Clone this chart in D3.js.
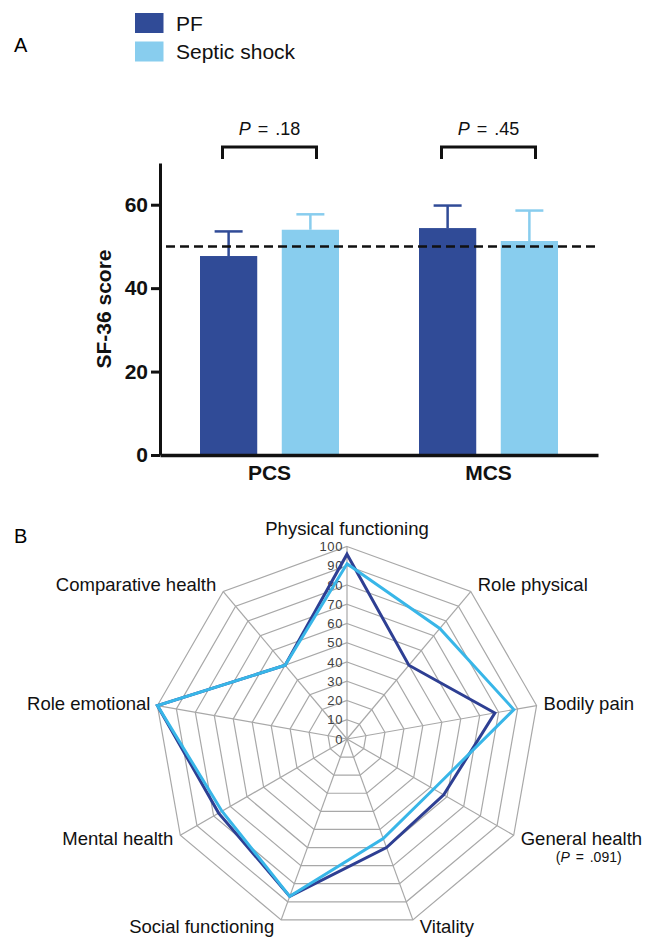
<!DOCTYPE html>
<html>
<head>
<meta charset="utf-8">
<script src="https://cdn.jsdelivr.net/npm/d3@7"></script>
<style>
  body { margin: 0; background: #fff; }
  svg { display: block; font-family: "Liberation Sans", Arial, sans-serif; }
</style>
</head>
<body>
<div id="chart"></div>
<script>
// panel A data
const groups = ["PCS", "MCS"];
const seriesNames = ["PF", "Septic shock"];
const meanPF = [47.7, 54.4];
const meanSeptic = [54.0, 51.3];
const errPF = [5.9, 5.4];
const errSeptic = [3.7, 7.3];
const pValues = [".18", ".45"];
const refScore = 50;
const yTicks = [0, 20, 40, 60];

// panel B data
const domains = ["Physical functioning", "Role physical", "Bodily pain", "General health",
  "Vitality", "Social functioning", "Mental health", "Role emotional", "Comparative health"];
const radarPF = [96, 50, 78, 58, 60, 87, 77, 100, 50];
const radarSeptic = [91, 75, 88, 52, 55, 87, 75, 100, 50];
const radarTicks = [0, 10, 20, 30, 40, 50, 60, 70, 80, 90, 100];

const barColors = ["#304b97", "#88cdee"];
const radarColors = ["#2e3f93", "#38b6e8"];

const svg = d3.select("#chart").append("svg")
    .attr("width", 647)
    .attr("height", 940);

// ---------- panel A: bar chart ----------
svg.append("text").attr("x", 14).attr("y", 52).attr("font-size", 20).text("A");

const legend = svg.append("g");
seriesNames.forEach((name, i) => {
    legend.append("rect")
        .attr("x", 135).attr("y", 13 + i * 28.5)
        .attr("width", 28.5).attr("height", 20)
        .attr("fill", barColors[i]);
    legend.append("text")
        .attr("x", 176).attr("y", 30.5 + i * 28)
        .attr("font-size", 21)
        .attr("fill", "#111")
        .text(name);
});

const y = d3.scaleLinear().domain([0, 70]).range([455, 163]);
const x0 = d3.scaleBand().domain(groups).range([160, 598]);
const x1 = d3.scaleBand().domain(seriesNames).range([40, x0.bandwidth() - 40]).paddingInner(0.3);

const barData = groups.flatMap((g, i) => [
    { group: g, series: seriesNames[0], mean: meanPF[i], err: errPF[i], color: barColors[0] },
    { group: g, series: seriesNames[1], mean: meanSeptic[i], err: errSeptic[i], color: barColors[1] }
]);

// error bars (upper half only)
const eb = svg.append("g").selectAll("g").data(barData).enter().append("g");
eb.append("line")
    .attr("x1", d => x0(d.group) + x1(d.series) + x1.bandwidth() / 2)
    .attr("x2", d => x0(d.group) + x1(d.series) + x1.bandwidth() / 2)
    .attr("y1", d => y(d.mean))
    .attr("y2", d => y(d.mean + d.err))
    .attr("stroke", d => d.color).attr("stroke-width", 2.5);
eb.append("line")
    .attr("x1", d => x0(d.group) + x1(d.series) + x1.bandwidth() / 2 - 14)
    .attr("x2", d => x0(d.group) + x1(d.series) + x1.bandwidth() / 2 + 14)
    .attr("y1", d => y(d.mean + d.err))
    .attr("y2", d => y(d.mean + d.err))
    .attr("stroke", d => d.color).attr("stroke-width", 2.5);

svg.append("g").selectAll(".bar")
    .data(barData)
    .enter()
    .append("rect")
    .attr("class", "bar")
    .attr("x", d => x0(d.group) + x1(d.series))
    .attr("y", d => y(d.mean))
    .attr("width", x1.bandwidth())
    .attr("height", d => y(0) - y(d.mean))
    .attr("fill", d => d.color);

// reference line at 50
svg.append("line")
    .attr("x1", 166).attr("x2", 598)
    .attr("y1", y(refScore)).attr("y2", y(refScore))
    .attr("stroke", "#111").attr("stroke-width", 2.5)
    .attr("stroke-dasharray", "9,5");

// axes
const yAxis = svg.append("g")
    .attr("transform", "translate(160,0)")
    .call(d3.axisLeft(y).tickValues(yTicks).tickSize(9).tickPadding(3).tickSizeOuter(0));
yAxis.select(".domain").attr("stroke", "#111").attr("stroke-width", 3);
yAxis.selectAll(".tick line").attr("stroke", "#111").attr("stroke-width", 3);
yAxis.selectAll(".tick text")
    .attr("font-size", 21).attr("font-weight", "bold")
    .attr("font-family", "'Liberation Sans', Arial, sans-serif")
    .attr("fill", "#111");

const xAxis = svg.append("g")
    .attr("transform", `translate(0,${y(0)})`)
    .call(d3.axisBottom(x0).tickSize(0).tickPadding(10).tickSizeOuter(0));
xAxis.select(".domain").attr("stroke", "#111").attr("stroke-width", 3.5);
xAxis.selectAll(".tick text")
    .attr("font-size", 21).attr("font-weight", "bold")
    .attr("font-family", "'Liberation Sans', Arial, sans-serif")
    .attr("fill", "#111");

svg.append("text")
    .attr("transform", `translate(111,${(y(0) + y(70)) / 2}) rotate(-90)`)
    .attr("text-anchor", "middle")
    .attr("font-size", 21).attr("font-weight", "bold")
    .attr("fill", "#111")
    .text("SF-36 score");

// significance brackets
groups.forEach((g, i) => {
    const cx = x0(g) + x0.bandwidth() / 2;
    const top = y(70) - 16;
    svg.append("path")
        .attr("d", `M${cx - 47},${top + 12}V${top}H${cx + 47}V${top + 12}`)
        .attr("fill", "none").attr("stroke", "#111").attr("stroke-width", 3);
    const t = svg.append("text")
        .attr("x", cx).attr("y", top - 12)
        .attr("text-anchor", "middle")
        .attr("font-size", 18).attr("fill", "#111")
        .attr("word-spacing", 2);
    t.append("tspan").attr("font-style", "italic").text("P");
    t.append("tspan").text(" = " + pValues[i]);
});

// ---------- panel B: radar chart ----------
svg.append("text").attr("x", 14).attr("y", 543).attr("font-size", 20).text("B");

const cx = 347, cy = 739;
const r = d3.scaleLinear().domain([0, 100]).range([0, 192.5]);
const angle = i => i * 2 * Math.PI / domains.length;

const radar = svg.append("g").attr("transform", `translate(${cx},${cy})`);

const ring = d3.lineRadial()
    .angle((d, i) => angle(i))
    .radius(d => r(d))
    .curve(d3.curveLinearClosed);

radar.selectAll(".ring")
    .data(radarTicks.slice(1))
    .enter()
    .append("path")
    .attr("class", "ring")
    .attr("d", t => ring(domains.map(() => t)))
    .attr("fill", "none").attr("stroke", "#a8a8a8").attr("stroke-width", 1.2);

radar.selectAll(".spoke")
    .data(domains)
    .enter()
    .append("line")
    .attr("class", "spoke")
    .attr("x1", 0).attr("y1", 0)
    .attr("x2", (d, i) => r(100) * Math.sin(angle(i)))
    .attr("y2", (d, i) => -r(100) * Math.cos(angle(i)))
    .attr("stroke", "#a8a8a8").attr("stroke-width", 1.2);

radar.selectAll(".rtick")
    .data(radarTicks)
    .enter()
    .append("text")
    .attr("class", "rtick")
    .attr("x", -4)
    .attr("y", d => -r(d))
    .attr("dy", "0.35em")
    .attr("text-anchor", "end")
    .attr("font-size", 13)
    .attr("letter-spacing", 0.6)
    .attr("fill", "#404040")
    .text(d => d);

[radarPF, radarSeptic].forEach((vals, k) => {
    radar.append("path")
        .attr("d", ring(vals))
        .attr("fill", "none")
        .attr("stroke", radarColors[k])
        .attr("stroke-width", 3)
        .attr("stroke-linejoin", "miter");
});

radar.selectAll(".dlabel")
    .data(domains)
    .enter()
    .append("text")
    .attr("class", "dlabel")
    .each(function (d, i) {
        const a = angle(i);
        const s = Math.sin(a), c = Math.cos(a);
        const px = r(100) * s, py = -r(100) * c;
        const el = d3.select(this);
        if (Math.abs(s) < 0.1) {
            el.attr("x", px).attr("y", py - 12).attr("text-anchor", "middle");
        } else {
            el.attr("x", px + (s > 0 ? 7 : -7))
              .attr("y", py + 6 - 8 * c)
              .attr("text-anchor", s > 0 ? "start" : "end");
        }
    })
    .attr("font-size", 18.5)
    .attr("fill", "#111")
    .text(d => d);

// p-value under General health
const gi = domains.indexOf("General health");
const pt = radar.append("text")
    .attr("x", r(100) * Math.sin(angle(gi)) + 75)
    .attr("y", -r(100) * Math.cos(angle(gi)) + 27)
    .attr("text-anchor", "middle")
    .attr("font-size", 14)
    .attr("word-spacing", 2)
    .attr("fill", "#111");
pt.append("tspan").text("(");
pt.append("tspan").attr("font-style", "italic").text("P");
pt.append("tspan").text(" = .091)");
</script>
</body>
</html>
